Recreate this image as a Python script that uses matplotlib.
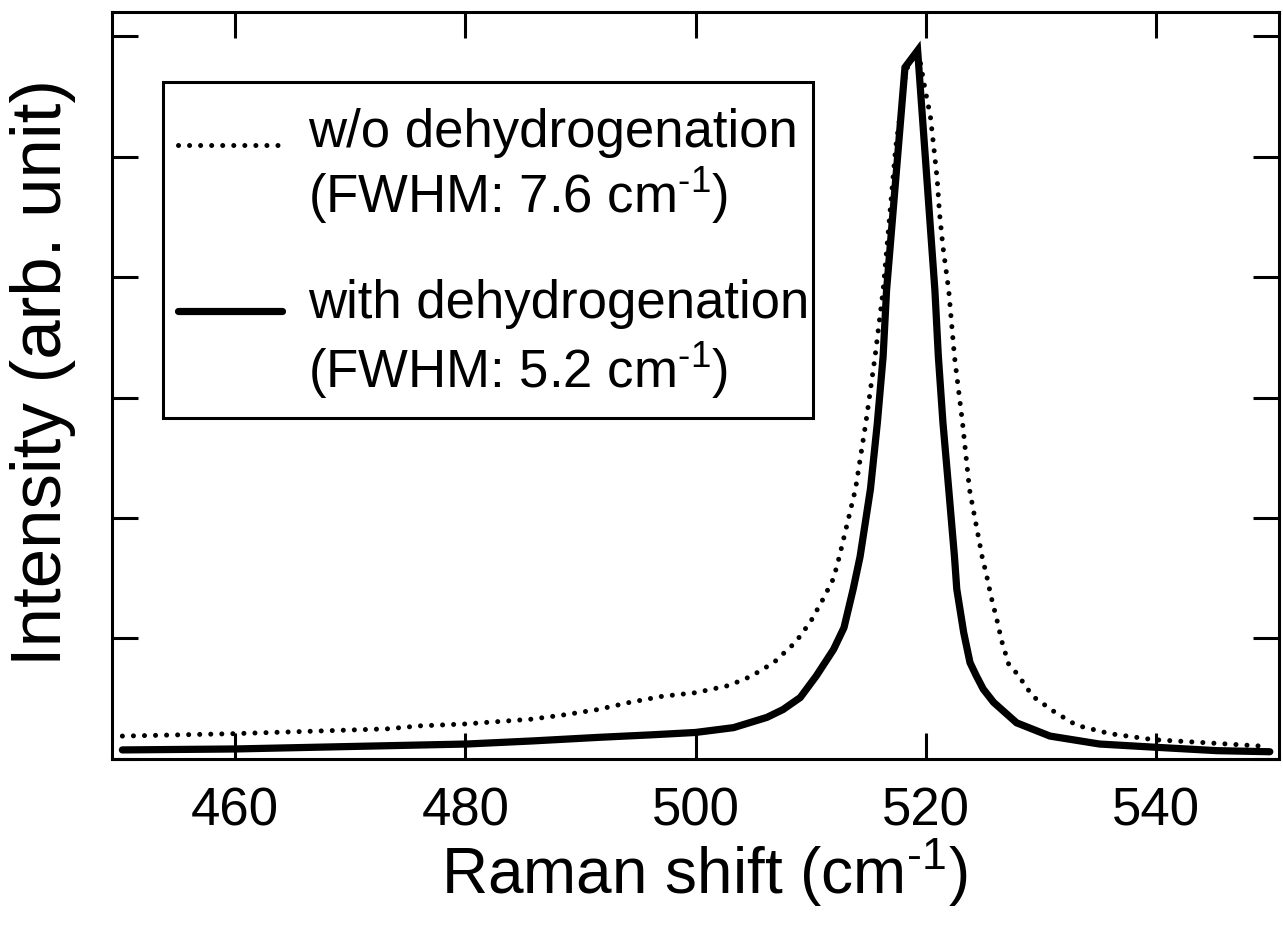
"""Raman spectra with / without dehydrogenation (normalised intensity)."""

import matplotlib
matplotlib.use("Agg")
import matplotlib.pyplot as plt
from matplotlib.patches import Rectangle
from matplotlib.lines import Line2D

plt.rcParams["font.family"] = ["Liberation Sans", "DejaVu Sans"]
plt.rcParams["mathtext.fontset"] = "custom"
plt.rcParams["mathtext.rm"] = "Liberation Sans"
plt.rcParams["mathtext.default"] = "regular"

# values (x in cm^-1, y in tick units)
shift_wo = [450.2, 459.9, 473.2, 476.1, 479.9, 482.8, 485.7, 488.5, 491.5, 494.3,
            497.1, 500.0, 502.9, 504.8, 506.8, 508.7, 510.0, 511.1, 512.0, 512.5,
            513.9, 514.8, 515.6, 516.3, 517.4, 518.3, 519.3, 519.5, 520.0, 520.4,
            520.7, 521.0, 521.2, 521.5, 522.0, 522.5, 523.2, 523.8, 524.9, 525.3,
            525.7, 526.2, 526.6, 527.2, 528.0, 529.3, 531.2, 533.1, 536.0, 539.8,
            543.8, 549.5]
int_wo = [0.19, 0.21, 0.25, 0.275, 0.29, 0.31, 0.33, 0.365, 0.41, 0.47,
          0.52, 0.55, 0.61, 0.685, 0.80, 0.97, 1.14, 1.33, 1.50, 1.68,
          2.24, 2.79, 3.34, 3.89, 5.08, 5.72, 5.88, 5.80, 5.53, 5.34,
          5.08, 4.81, 4.53, 4.25, 3.89, 3.34, 2.79, 2.24, 1.68, 1.52,
          1.34, 1.15, 0.98, 0.79, 0.70, 0.52, 0.39, 0.28, 0.21, 0.16,
          0.138, 0.105]

shift_with = [450.2, 460.0, 473.2, 480.1, 485.9, 491.7, 496.1, 500.0, 503.3, 506.2,
              507.6, 509.1, 510.5, 512.0, 512.9, 513.7, 514.3, 515.2, 515.8, 516.3,
              516.6, 518.2, 519.3, 520.8, 521.1, 521.5, 522.0, 522.5, 522.7, 523.3,
              523.85, 524.4, 525.0, 525.9, 527.9, 530.8, 535.1, 540.0, 545.3, 549.9]
int_with = [0.075, 0.083, 0.11, 0.124, 0.15, 0.18, 0.20, 0.22, 0.26, 0.345,
            0.41, 0.51, 0.69, 0.91, 1.09, 1.41, 1.68, 2.24, 2.79, 3.34,
            3.89, 5.74, 5.88, 3.89, 3.34, 2.79, 2.24, 1.68, 1.41, 1.05,
            0.80, 0.69, 0.58, 0.47, 0.30, 0.19, 0.124, 0.097, 0.069, 0.06]

x_ticks = [460, 480, 500, 520, 540]
y_ticks = [0, 1, 2, 3, 4, 5, 6]

SUP = r"$^{\text{-1}}$"
label_wo = ["w/o dehydrogenation", "(FWHM: 7.6 cm" + SUP + ")"]
label_with = ["with dehydrogenation", "(FWHM: 5.2 cm" + SUP + ")"]

fig = plt.figure(figsize=(12.83, 9.34), dpi=100)
ax = fig.add_axes([0.0873, 0.1874, 0.9096, 0.7998])

ax.plot(shift_wo, int_wo, color="black", lw=3.6,
        linestyle=(0, (0.01, 2.2)), dash_capstyle="round")
ax.plot(shift_with, int_with, color="black", lw=5.2,
        solid_joinstyle="miter", solid_capstyle="round")

ax.set_xlim(449.3, 550.7)
ax.set_ylim(0, 6.2)
ax.set_xticks(x_ticks)
ax.set_yticks(y_ticks)
ax.set_yticklabels([])
ax.tick_params(direction="in", length=19, width=2.2, top=True, right=True,
               labelsize=38, pad=20)
for sp in ax.spines.values():
    sp.set_linewidth(2.2)

ax.set_xlabel("Raman shift (cm" + SUP + ")", fontsize=46, labelpad=0, x=0.507)
ax.set_ylabel("Intensity (arb. unit)", fontsize=51, labelpad=6, y=0.518)

# hand-made legend box
ax.add_patch(Rectangle((0.0437, 0.4565), 0.557, 0.4495, transform=ax.transAxes,
                       fill=False, lw=2.2, ec="black", zorder=5))
ax.add_line(Line2D([0.0566, 0.144], [0.822, 0.822], transform=ax.transAxes,
                   color="black", lw=3.6, linestyle=(0, (0.01, 2.2)),
                   dash_capstyle="round"))
ax.add_line(Line2D([0.0566, 0.146], [0.5997, 0.5997], transform=ax.transAxes,
                   color="black", lw=5.2, solid_capstyle="round"))
for txt, yy in zip(label_wo + label_with, [0.819, 0.731, 0.590, 0.497]):
    ax.text(0.168, yy, txt, transform=ax.transAxes, fontsize=38,
            va="baseline", ha="left")

fig.savefig("out.png", dpi=100)
